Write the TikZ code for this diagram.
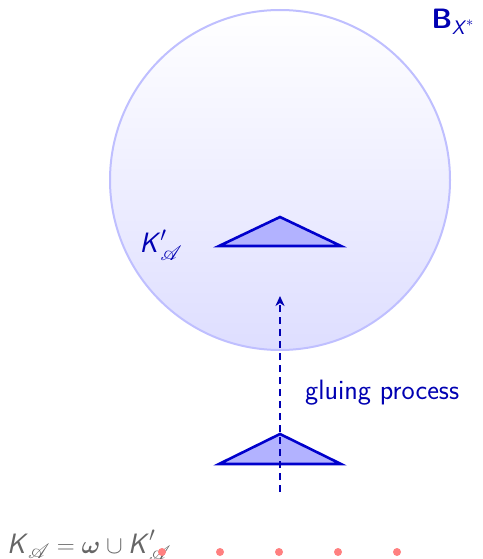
\documentclass[tikz,border=0pt]{standalone}
\usepackage{amsmath,amssymb,bm}
\usepackage{mathrsfs}
\usetikzlibrary{arrows.meta}
\newcommand{\sK}{\text{\textit{K}}}
\begin{document}
\begin{tikzpicture}[x=1pt,y=-1pt,
  tri/.style={draw=blue!80!black,fill=blue!30,line width=2.6pt,line join=miter},
  lbl/.style={font=\fontsize{28}{33}\selectfont\sffamily,text=blue!70!black,inner sep=0pt},
  dot/.style={circle,fill=red!50,inner sep=0pt,minimum size=8pt}]
\useasboundingbox (0,0) rectangle (482,559);
% ball
\shade[top color=white,bottom color=blue!13] (280,180) circle[radius=170];
\draw[blue!25,line width=2pt] (280,180) circle[radius=170];
\node[lbl,font=\fontsize{28}{33}\selectfont\sffamily\bfseries,text=blue!70!black] (B) at (453,22) {B$_{\text{\mdseries\textit{X}}^*}$};
% upper triangle
\draw[tri] (219,246) -- (280,217) -- (341,246) -- cycle;
\node[lbl] (Kp) at (161,245) {$\sK'_{\mathscr{A}}$};
% lower triangle
\draw[tri] (219,464) -- (280,434) -- (341,464) -- cycle;
\coordinate (s) at (280,492);
\coordinate (t) at (280,296);
\draw[blue!70!black,line width=1.8pt,dash pattern=on 7pt off 5pt,-{Stealth[length=10pt,width=9pt,inset=3pt]}] (s) -- (t);
\node[lbl,anchor=west] (g) at (305,393) {gluing process};
% bottom
\node[inner sep=0pt,anchor=base west,text=black!60,font=\fontsize{28}{33}\selectfont\sffamily] (eq) at (7,553) {$\sK_{\mathscr{A}} = \bm{\omega}\cup \sK'_{\mathscr{A}}$};
\foreach \i/\x in {1/162,2/220,3/279,4/338,5/397}{
  \node[dot] (d\i) at (\x,552) {};
}
\end{tikzpicture}
\end{document}
